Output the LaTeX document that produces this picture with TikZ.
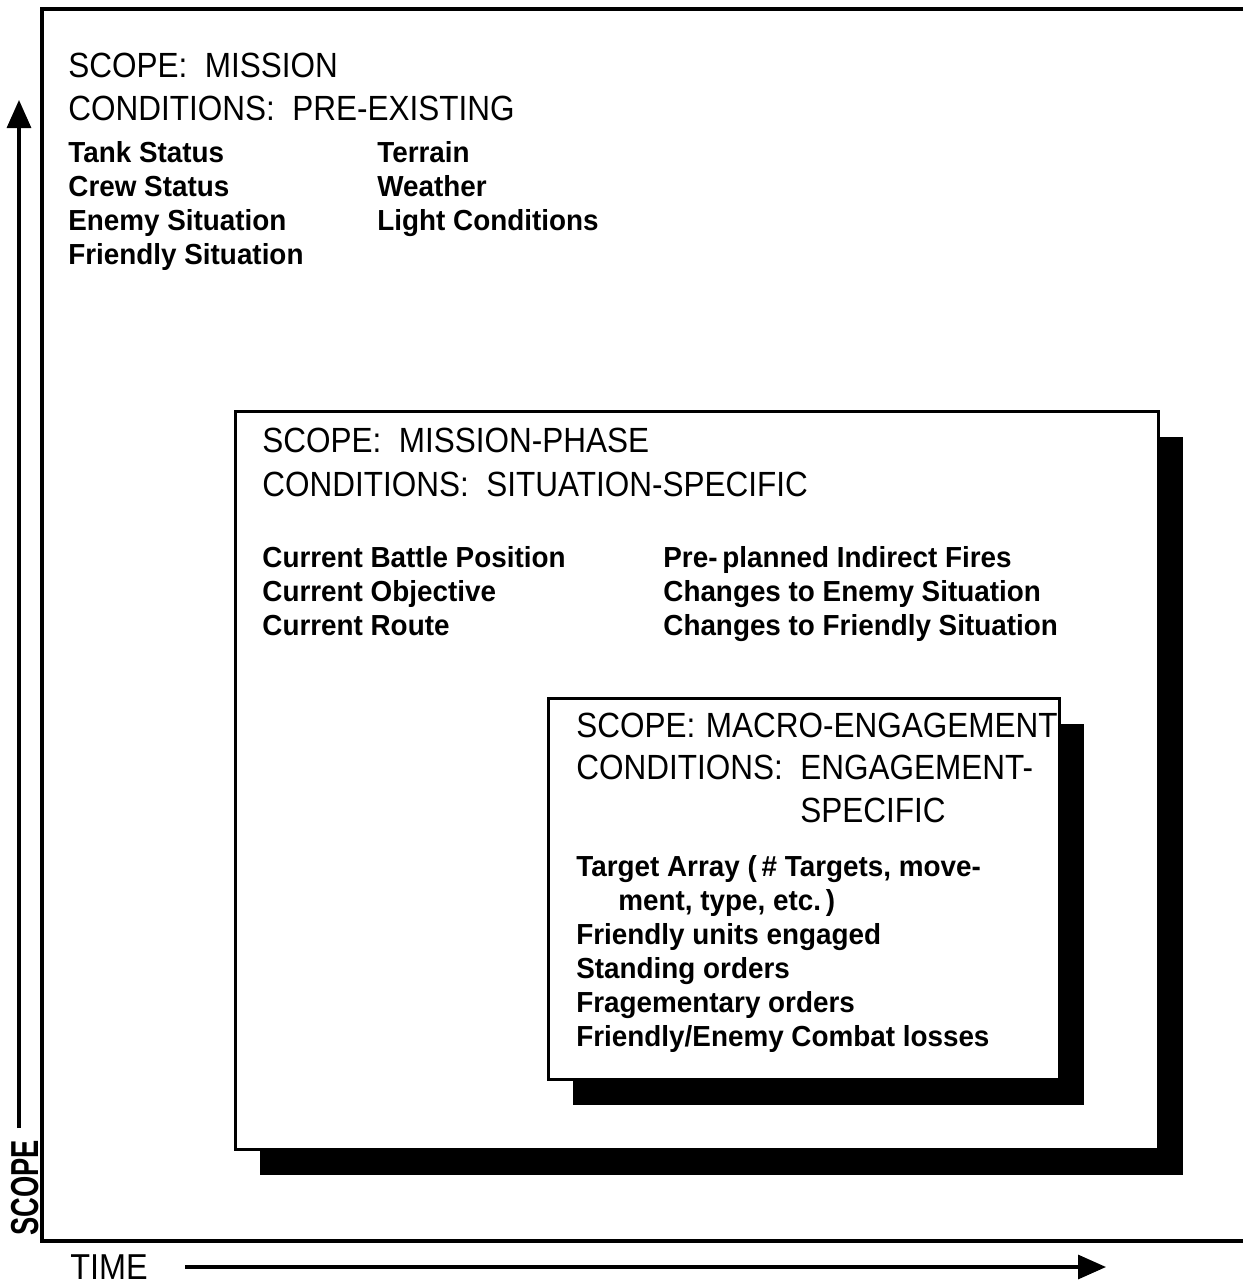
\documentclass[tikz,border=0pt]{standalone}
\usepackage{fontspec}
\setmainfont{Liberation Sans}
\newfontfamily\headfont{Liberation Sans}[FakeStretch=0.9]
\newfontfamily\itemfont{Liberation Sans}[FakeStretch=0.96]
\newfontfamily\axisfont{Liberation Sans}[FakeStretch=0.7]
\usetikzlibrary{arrows.meta,shadows}

\tikzset{
  head/.style={anchor=base west, inner sep=0pt, font=\headfont\fontsize{17.5}{21}\selectfont},
  item/.style={anchor=base west, inner sep=0pt, font=\itemfont\bfseries\fontsize{14.5}{17}\selectfont},
  panel/.style={draw, line width=1.5pt, fill=white, anchor=north west, inner sep=0pt,
    general shadow={fill=black, shadow xshift=12pt, shadow yshift=-12.5pt}},
  frameline/.style={line width=2.2pt},
  axisarrow/.style={line width=1.6pt, -{Triangle[length=14pt,width=12pt]}},
}

\begin{document}
\begin{tikzpicture}[x=0.5pt, y=-0.5pt]
\useasboundingbox (0,0) rectangle (1243,1285);

% outer frame, open on the right
\coordinate (ftr) at (1243,9);
\coordinate (ftl) at (42,9);
\coordinate (fbl) at (42,1241);
\coordinate (fbr) at (1243,1241);
\draw[frameline] (ftr) -- (ftl) -- (fbl) -- (fbr);

% scope axis
\coordinate (sbot) at (19,1128);
\coordinate (stop) at (19,100);
\draw[axisarrow] (sbot) -- (stop);
\node[rotate=90, inner sep=0pt, font=\axisfont\bfseries\fontsize{19.5}{22}\selectfont] (scopelbl) at (25,1188) {SCOPE};

% time axis
\node[anchor=base west, inner sep=0pt, font=\headfont\fontsize{18}{21}\selectfont] (timelbl) at (70,1279) {TIME};
\coordinate (tleft) at (185,1267);
\coordinate (tright) at (1106,1267);
\draw[axisarrow] (tleft) -- (tright);

% mission level
\node[head] (h1a) at (68,77) {SCOPE:\hspace{.5em}MISSION};
\node[head] (h1b) at (68,120) {CONDITIONS:\hspace{.5em}PRE-EXISTING};
\foreach \t [count=\i] in {Tank Status, Crew Status, Enemy Situation, Friendly Situation}
  \node[item] (ma\i) at (68,{162+34*(\i-1)}) {\t};
\foreach \t [count=\i] in {Terrain, Weather, Light Conditions}
  \node[item] (mb\i) at (377,{162+34*(\i-1)}) {\t};

% mission-phase level
\node[panel, minimum width=461.5pt, minimum height=369pt] (phase) at (234,410) {};
\node[head] (h2a) at (262,452) {SCOPE:\hspace{.5em}MISSION-PHASE};
\node[head] (h2b) at (262,496) {CONDITIONS:\hspace{.5em}SITUATION-SPECIFIC};
\foreach \t [count=\i] in {Current Battle Position, Current Objective, Current Route}
  \node[item] (pa\i) at (262,{567+34*(\i-1)}) {\t};
\foreach \t [count=\i] in {Pre-\,planned Indirect Fires, Changes to Enemy Situation, Changes to Friendly Situation}
  \node[item] (pb\i) at (663,{567+34*(\i-1)}) {\t};

% macro-engagement level
\node[panel, minimum width=255.5pt, minimum height=190.5pt] (macro) at (547,697) {};
\node[head] (h3a) at (576,737) {SCOPE:\hspace{.3em}MACRO-ENGAGEMENT};
\node[head] (h3b) at (576,779) {CONDITIONS:\hspace{.5em}ENGAGEMENT-};
\node[head] (h3c) at (800,822) {SPECIFIC};
\node[item] (ea1) at (576,876) {Target Array (\,\# Targets, move-};
\node[item] (ea2) at (618,910) {ment, type, etc.\,)};
\node[item] (ea3) at (576,944) {Friendly units engaged};
\node[item] (ea4) at (576,978) {Standing orders};
\node[item] (ea5) at (576,1012) {Fragementary orders};
\node[item] (ea6) at (576,1046) {Friendly/Enemy Combat losses};
\end{tikzpicture}
\end{document}
